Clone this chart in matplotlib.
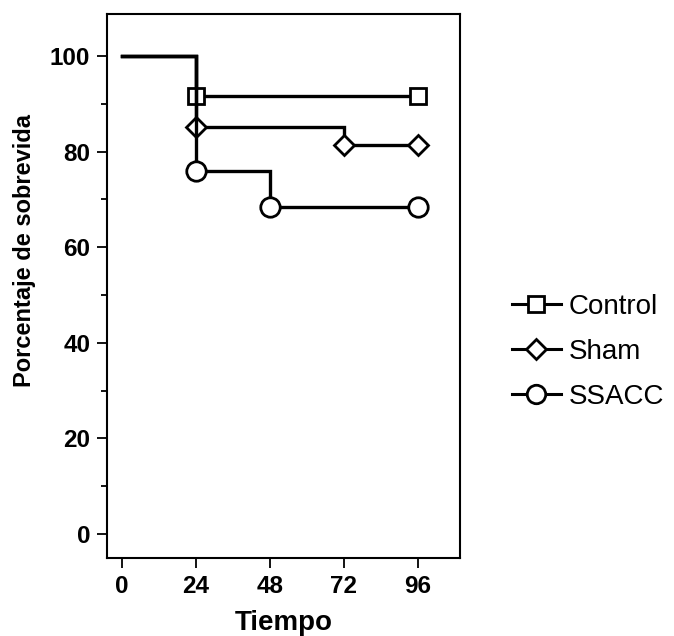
import matplotlib
matplotlib.use('Agg')
import matplotlib.pyplot as plt
from matplotlib.lines import Line2D

plt.rcParams['font.family'] = ['Liberation Sans', 'DejaVu Sans']

# survival data (Kaplan-Meier steps)
groups = ['Control', 'Sham', 'SSACC']
control_t = [0, 24, 96]
control_s = [100, 91.7, 91.7]
sham_t = [0, 24, 72, 96]
sham_s = [100, 85.2, 81.5, 81.5]
ssacc_t = [0, 24, 48, 96]
ssacc_s = [100, 76.0, 68.4, 68.4]

xticks = [0, 24, 48, 72, 96]
yticks = [0, 20, 40, 60, 80, 100]

series = [(control_t, control_s, 's', 11.5), (sham_t, sham_s, 'D', 10.5), (ssacc_t, ssacc_s, 'o', 14)]

fig = plt.figure(figsize=(6.74, 6.36), dpi=100)
ax = fig.add_axes([107/674, 1-558/636, 353/674, 544/636])

handles = []
for i, (t, s, m, ms) in enumerate(series):
    ax.step(t, s, where='post', color='black', lw=2.4, zorder=3+2*i, solid_joinstyle='miter')
    ax.plot(t[1:], s[1:], ls='none', marker=m, ms=ms, mfc='white', mec='black', mew=2, zorder=4+2*i)
    handles.append(Line2D([], [], color='black', lw=2.2, marker=m, ms=ms*0.95, mfc='white', mec='black', mew=2))

ax.set_xlim(-4.8, 109.7)
ax.set_ylim(-5, 108.8)
ax.set_xticks(xticks)
ax.set_yticks(yticks)
ax.set_yticks([10, 30, 50, 70, 90], minor=True)
ax.tick_params(axis='both', which='major', direction='out', length=7, width=1.3, labelsize=17.5, pad=5)
ax.tick_params(axis='y', which='minor', direction='out', length=4.5, width=1.3)
for lab in ax.get_xticklabels() + ax.get_yticklabels():
    lab.set_fontweight('bold')
for sp in ax.spines.values():
    sp.set_linewidth(1.5)

ax.set_xlabel('Tiempo', fontsize=20, fontweight='bold')
ax.set_ylabel('Porcentaje de sobrevida', fontsize=17, fontweight='bold')
ax.xaxis.set_label_coords(0.5, -0.095)
ax.yaxis.set_label_coords(-0.202, 0.566)

fig.legend(handles, groups, loc='center left', bbox_to_anchor=(498/674, 1-352/636),
           frameon=False, fontsize=20, handlelength=1.75, handletextpad=0.3,
           labelspacing=0.68, borderpad=0)

fig.savefig('out.png', dpi=100)
